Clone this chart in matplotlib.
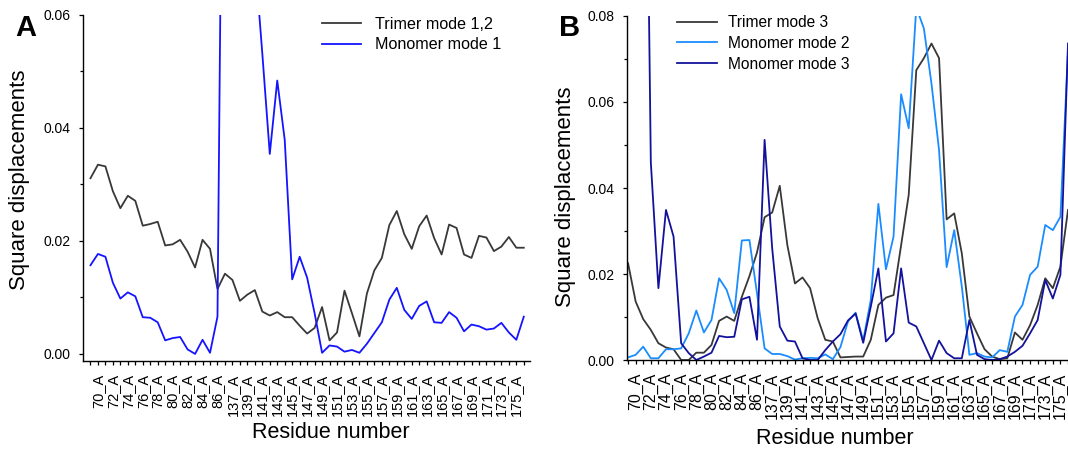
import numpy as np
import matplotlib.pyplot as plt
from matplotlib.ticker import MultipleLocator

# residues on the x axis (two segments of chain A)
residues = list(range(69, 88)) + list(range(137, 177))
res_labels = [f"{r}_A" for r in residues]

# panel A
trimer_12 = [0.0311, 0.0335, 0.0332, 0.0288, 0.0258, 0.0280, 0.0271, 0.0227, 0.0230, 0.0234,
             0.0192, 0.0194, 0.0202, 0.0181, 0.0153, 0.0202, 0.0186, 0.0115, 0.0142, 0.0131,
             0.0094, 0.0105, 0.0113, 0.0075, 0.0068, 0.0074, 0.0065, 0.0065, 0.0050, 0.0036,
             0.0046, 0.0083, 0.0024, 0.0038, 0.0112, 0.0072, 0.0031, 0.0107, 0.0148, 0.0170,
             0.0228, 0.0253, 0.0212, 0.0186, 0.0226, 0.0245, 0.0205, 0.0176, 0.0229, 0.0223,
             0.0176, 0.0170, 0.0209, 0.0206, 0.0182, 0.0190, 0.0207, 0.0188, 0.0188]
monomer_1 = [0.0157, 0.0177, 0.0172, 0.0126, 0.0098, 0.0109, 0.0102, 0.0065, 0.0064, 0.0056,
             0.0024, 0.0028, 0.0030, 0.0008, 0.0000, 0.0025, 0.0002, 0.0066, 0.1500, 0.1800,
             0.1600, 0.1200, 0.0702, 0.0532, 0.0354, 0.0484, 0.0379, 0.0132, 0.0172, 0.0135,
             0.0072, 0.0002, 0.0015, 0.0013, 0.0004, 0.0007, 0.0002, 0.0018, 0.0037, 0.0056,
             0.0096, 0.0117, 0.0078, 0.0062, 0.0085, 0.0093, 0.0056, 0.0055, 0.0074, 0.0064,
             0.0040, 0.0052, 0.0049, 0.0043, 0.0045, 0.0055, 0.0038, 0.0025, 0.0066]

# panel B
trimer_3 = [0.0225, 0.0136, 0.0095, 0.0070, 0.0039, 0.0029, 0.0025, 0.0000, 0.0000, 0.0017,
            0.0017, 0.0035, 0.0091, 0.0101, 0.0091, 0.0147, 0.0195, 0.0250, 0.0332, 0.0343,
            0.0405, 0.0267, 0.0178, 0.0192, 0.0167, 0.0097, 0.0047, 0.0043, 0.0006, 0.0007,
            0.0008, 0.0008, 0.0047, 0.0128, 0.0145, 0.0151, 0.0267, 0.0384, 0.0674, 0.0702,
            0.0736, 0.0702, 0.0327, 0.0341, 0.0248, 0.0101, 0.0062, 0.0025, 0.0008, 0.0002,
            0.0004, 0.0064, 0.0047, 0.0081, 0.0128, 0.0190, 0.0167, 0.0217, 0.0349]
monomer_2 = [0.0006, 0.0012, 0.0031, 0.0004, 0.0004, 0.0025, 0.0025, 0.0027, 0.0062, 0.0115,
             0.0064, 0.0093, 0.0190, 0.0163, 0.0109, 0.0278, 0.0279, 0.0155, 0.0027, 0.0014,
             0.0014, 0.0009, 0.0001, 0.0004, 0.0005, 0.0004, 0.0013, 0.0002, 0.0030, 0.0090,
             0.0110, 0.0045, 0.0140, 0.0363, 0.0211, 0.0287, 0.0618, 0.0539, 0.0820, 0.0771,
             0.0643, 0.0488, 0.0216, 0.0302, 0.0171, 0.0012, 0.0016, 0.0008, 0.0006, 0.0023,
             0.0019, 0.0101, 0.0128, 0.0198, 0.0217, 0.0314, 0.0302, 0.0333, 0.0720]
monomer_3 = [0.2000, 0.2400, 0.1900, 0.0460, 0.0167, 0.0349, 0.0287, 0.0039, 0.0016, 0.0000,
             0.0008, 0.0017, 0.0056, 0.0053, 0.0054, 0.0141, 0.0147, 0.0047, 0.0512, 0.0260,
             0.0078, 0.0045, 0.0043, 0.0004, 0.0000, 0.0000, 0.0023, 0.0043, 0.0060, 0.0092,
             0.0108, 0.0040, 0.0124, 0.0213, 0.0043, 0.0062, 0.0213, 0.0087, 0.0078, 0.0039,
             0.0000, 0.0045, 0.0016, 0.0004, 0.0004, 0.0093, 0.0012, 0.0002, 0.0000, 0.0002,
             0.0008, 0.0019, 0.0033, 0.0062, 0.0093, 0.0186, 0.0143, 0.0198, 0.0736]

plt.rcParams['font.family'] = ['Liberation Sans', 'DejaVu Sans']

W, H = 1068, 449
fig = plt.figure(figsize=(W / 100, H / 100), dpi=100)


def axes_px(left, top, right, bottom):
    return fig.add_axes([left / W, 1 - bottom / H, (right - left) / W, (bottom - top) / H])


def style(ax, ymax, ymin, xlim, lab_size):
    x = np.arange(len(residues))
    for s in ('top', 'right'):
        ax.spines[s].set_visible(False)
    for s in ('left', 'bottom'):
        ax.spines[s].set_linewidth(1.0)
    ax.set_xlim(*xlim)
    ax.set_ylim(ymin, ymax)
    ax.set_xticks(x[1::2])
    ax.set_xticklabels(res_labels[1::2], rotation=90, fontsize=lab_size)
    ax.set_xticks(x[0::2], minor=True)
    ax.yaxis.set_major_locator(MultipleLocator(0.02))
    ax.yaxis.set_minor_locator(MultipleLocator(0.01))
    ax.yaxis.set_major_formatter(plt.FormatStrFormatter('%.2f'))
    ax.tick_params(axis='x', which='both', direction='out', length=3.2, width=0.9, pad=6)
    ax.tick_params(axis='y', which='major', direction='out', length=3.2, width=0.9,
                   pad=6, labelsize=10)
    ax.tick_params(axis='y', which='minor', direction='out', length=2.5, width=0.9)


x = np.arange(len(residues))

# ---- panel A
axA = axes_px(83, 15, 530, 360.7)
axA.plot(x, trimer_12, color='#383838', lw=1.3, label='Trimer mode 1,2')
axA.plot(x, monomer_1, color='#1414ff', lw=1.3, label='Monomer mode 1')
style(axA, 0.06, -0.0012, (-1.0, 58.83), 10.5)
axA.legend(loc='upper left', bbox_to_anchor=(322 / W, 1 - 17 / H),
           bbox_transform=fig.transFigure, frameon=False, fontsize=11.6,
           borderpad=0, borderaxespad=0, handlelength=2.4, handletextpad=0.9,
           labelspacing=0.33)

# ---- panel B
axB = axes_px(627.3, 16, 1068, 360)
axB.plot(x, trimer_3, color='#383838', lw=1.3, label='Trimer mode 3')
axB.plot(x, monomer_2, color='#1a8cff', lw=1.3, label='Monomer mode 2')
axB.plot(x, monomer_3, color='#12129c', lw=1.3, label='Monomer mode 3')
style(axB, 0.08, 0.0, (-0.1, 58.0), 11.5)
axB.legend(loc='upper left', bbox_to_anchor=(677 / W, 1 - 15 / H),
           bbox_transform=fig.transFigure, frameon=False, fontsize=11.2,
           borderpad=0, borderaxespad=0, handlelength=2.6, handletextpad=0.65,
           labelspacing=0.37)

# axis titles and panel letters
fig.text(330.5 / W, 1 - 433 / H, 'Residue number', ha='center', va='center', fontsize=15.5)
fig.text(835 / W, 1 - 438.5 / H, 'Residue number', ha='center', va='center', fontsize=15.5)
fig.text(20 / W, 1 - 180 / H, 'Square displacements', ha='center', va='center',
         rotation=90, fontsize=16)
fig.text(566 / W, 1 - 197 / H, 'Square displacements', ha='center', va='center',
         rotation=90, fontsize=16)
fig.text(15 / W, 1 - 28 / H, 'A', ha='left', va='center', fontsize=21, fontweight='bold')
fig.text(559 / W, 1 - 28 / H, 'B', ha='left', va='center', fontsize=21, fontweight='bold')

fig.savefig('out.png', dpi=100)
